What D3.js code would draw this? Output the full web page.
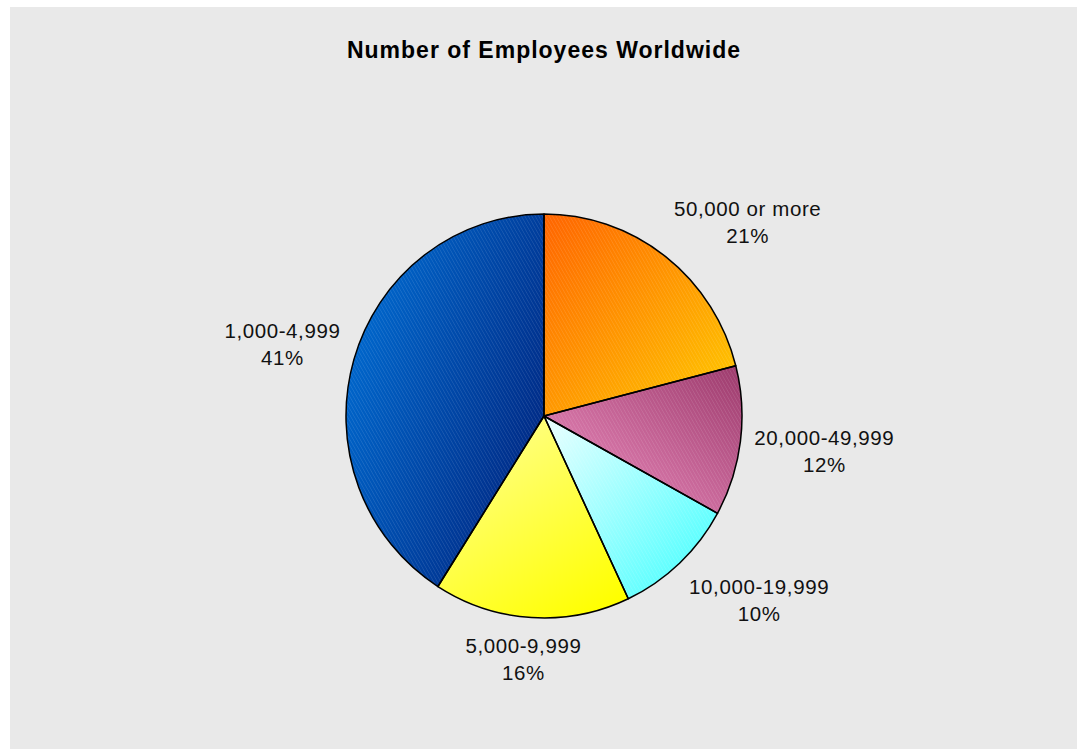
<!DOCTYPE html>
<html lang="en">
<head>
  <meta charset="UTF-8">
  <title>Number of Employees Worldwide</title>
  <script src="https://d3js.org/d3.v7.min.js"></script>
  <style>
    body { margin: 0; background: #fff; font-family: "Liberation Sans", Arial, sans-serif; }
    svg { display: block; }
    .label { font-size: 20.5px; fill: #111; text-anchor: middle; letter-spacing: 0.6px; }
    .title { font-size: 23px; font-weight: bold; fill: #000; text-anchor: middle; letter-spacing: 1px; }
  </style>
</head>
<body>
  <div id="chart"></div>
  <script>
    // data, clockwise from 12 o'clock
    const categories = ["50,000 or more", "20,000-49,999", "10,000-19,999", "5,000-9,999", "1,000-4,999"];
    const shares = [21, 12, 10, 16, 41];
    const percentLabels = ["21%", "12%", "10%", "16%", "41%"];

    // gradient colours per slice: [start, end, x1, y1, x2, y2]
    const sliceGradients = [
      ["#ff6400", "#ffcc00", 0, 0, 1, 1],
      ["#9c3a6c", "#f292c4", 1, 0, 0, 1],
      ["#ecffff", "#3cffff", 0, 0, 1, 1],
      ["#ffff90", "#ffff00", 0.2, 0, 0.8, 1],
      ["#006ad0", "#00207a", 0, 0.3, 1, 0.9]
    ];
    const hatched = [true, true, true, false, true];

    const W = 1077, H = 749;
    const cx = 544, cy = 416, r = 198;
    const labelRadius = 212, labelRadiusY = 216, lineGap = 27, blockH = 50;

    const svg = d3.select("#chart").append("svg")
      .attr("width", W)
      .attr("height", H);

    const defs = svg.append("defs");

    sliceGradients.forEach((g, i) => {
      const grad = defs.append("linearGradient")
        .attr("id", "grad" + i)
        .attr("x1", g[2]).attr("y1", g[3])
        .attr("x2", g[4]).attr("y2", g[5]);
      grad.append("stop").attr("offset", "0%").attr("stop-color", g[0]);
      grad.append("stop").attr("offset", "100%").attr("stop-color", g[1]);
    });

    // fine diagonal hatch overlay
    const pat = defs.append("pattern")
      .attr("id", "hatch")
      .attr("patternUnits", "userSpaceOnUse")
      .attr("width", 3).attr("height", 3)
      .attr("patternTransform", "rotate(-30)");
    pat.append("line")
      .attr("x1", 0).attr("y1", 0).attr("x2", 0).attr("y2", 3)
      .attr("stroke", "#fff")
      .attr("stroke-opacity", 0.16)
      .attr("stroke-width", 1);

    // panel background
    svg.append("rect")
      .attr("x", 10).attr("y", 7)
      .attr("width", W - 10).attr("height", H - 7)
      .attr("fill", "#e9e9e9");

    svg.append("text")
      .attr("class", "title")
      .attr("x", 544).attr("y", 58)
      .text("Number of Employees Worldwide");

    const pie = d3.pie().sort(null).value(d => d);
    const arcs = pie(shares);
    const arc = d3.arc().innerRadius(0).outerRadius(r);

    const g = svg.append("g")
      .attr("transform", `translate(${cx},${cy}) scale(1,1.02)`);

    g.selectAll("path.slice")
      .data(arcs)
      .enter()
      .append("path")
      .attr("class", "slice")
      .attr("d", arc)
      .attr("fill", (d, i) => `url(#grad${i})`);

    g.selectAll("path.hatch")
      .data(arcs.filter((d, i) => hatched[i]))
      .enter()
      .append("path")
      .attr("class", "hatch")
      .attr("d", arc)
      .attr("fill", "url(#hatch)");

    g.selectAll("path.edge")
      .data(arcs)
      .enter()
      .append("path")
      .attr("class", "edge")
      .attr("d", arc)
      .attr("fill", "none")
      .attr("stroke", "#000")
      .attr("stroke-width", 1.5)
      .attr("vector-effect", "non-scaling-stroke")
      .attr("stroke-linejoin", "round");

    // labels outside the pie: box pushed away from an anchor point on the label ring
    const clamp = v => Math.max(-1, Math.min(1, v));
    const labels = svg.append("g").attr("transform", `translate(${cx},${cy})`);

    arcs.forEach((d, i) => {
      const a = (d.startAngle + d.endAngle) / 2;
      const s = Math.sin(a), c = Math.cos(a);
      const t = labels.append("text").attr("class", "label");
      const t1 = t.append("tspan").text(categories[i]);
      const t2 = t.append("tspan").attr("dy", lineGap).text(percentLabels[i]);
      const w = t1.node().getComputedTextLength();
      const bx = labelRadius * s + (w / 2) * clamp(2 * s);
      const by = -labelRadiusY * c - (blockH / 2) * clamp(2 * c) + 4;
      t.attr("y", by - 8);
      t1.attr("x", bx);
      t2.attr("x", bx);
    });
  </script>
</body>
</html>
